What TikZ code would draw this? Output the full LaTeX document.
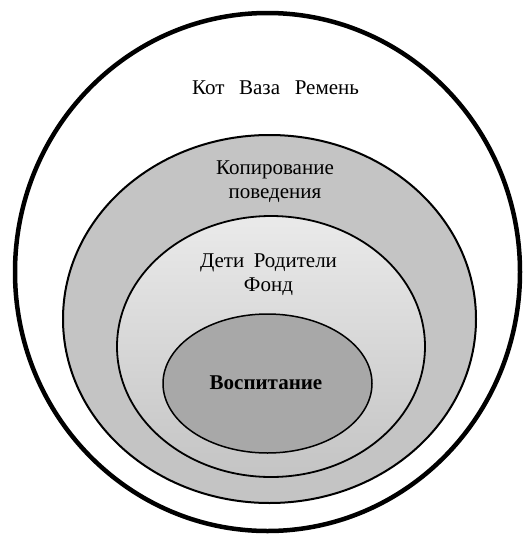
\documentclass[tikz,border=0pt]{standalone}
\usepackage{fontspec}
\setmainfont{Liberation Serif}
\begin{document}
\begin{tikzpicture}[x=1pt,y=-1pt,
  lbl/.style={align=center,font=\fontsize{21}{24}\selectfont,inner sep=0pt},
  ring/.style={draw=black}]
\useasboundingbox (0,0) rectangle (523,536);
\fill[white] (0,0) rectangle (523,536);
% outer
\draw[ring,line width=4.5pt,fill=white] (267.5,272) ellipse [x radius=252.5,y radius=259];
% second
\draw[ring,line width=2pt,fill={rgb,255:red,196;green,196;blue,196}] (269.5,319) ellipse [x radius=206.5,y radius=184];
% third (gradient)
\shade[top color={rgb,255:red,234;green,234;blue,234},bottom color={rgb,255:red,196;green,196;blue,196}] (271,346.5) ellipse [x radius=154,y radius=130.5];
\draw[ring,line width=1.8pt] (271,346.5) ellipse [x radius=154,y radius=130.5];
% inner
\draw[ring,line width=1.5pt,fill={rgb,255:red,168;green,168;blue,168}] (267.5,383.5) ellipse [x radius=104.5,y radius=69.5];
% labels
\node[lbl] (t1) at (275.5,88) {Кот\hspace{0.7em}Ваза\hspace{0.7em}Ремень};
\node[lbl] (t2) at (275,182) {Копирование\\поведения};
\node[lbl] (t3) at (268.5,275) {Дети\hspace{0.45em}Родители\\Фонд};
\node[lbl,font=\fontsize{21}{24}\selectfont\bfseries] (t4) at (266,383) {Воспитание};
\end{tikzpicture}
\end{document}
